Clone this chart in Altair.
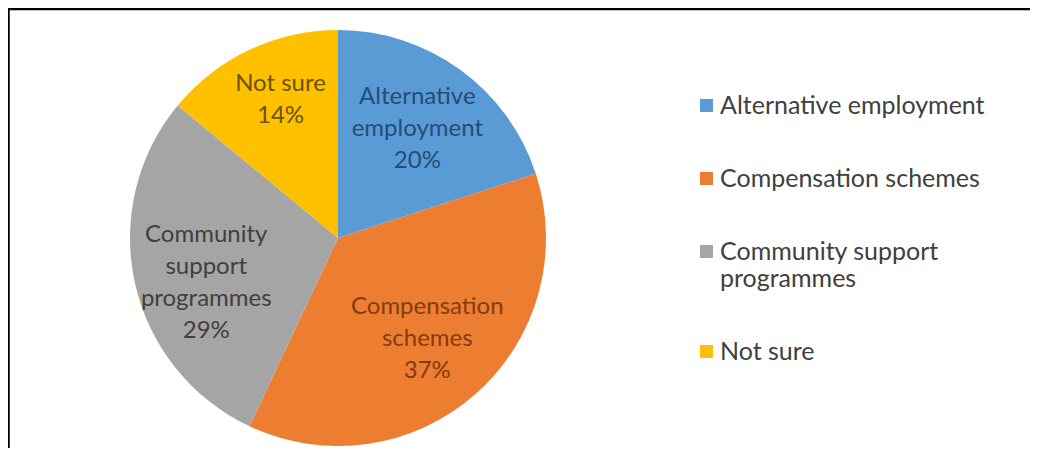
import altair as alt
import pandas as pd

categories = ["Alternative employment", "Compensation schemes",
              "Community support programmes", "Not sure"]
values = [20, 37, 29, 14]
slice_text = ["Alternative\nemployment", "Compensation\nschemes",
              "Community\nsupport\nprogrammes", "Not sure"]
slice_colors = ["#5B9BD5", "#ED7D31", "#A5A5A5", "#FFC000"]
text_colors = ["#1F4E79", "#843C0C", "#404040", "#6B5200"]

df = pd.DataFrame({
    "idx": list(range(len(categories))),
    "category": categories,
    "value": values,
    "label": [f"{t}\n{v}%" for t, v in zip(slice_text, values)],
    "tcolor": text_colors,
})

FONT = "Lato"
PAD_TOP = 20
VIEW_W, VIEW_H = 660, 420
TOTAL_W = 1024

legend = alt.Legend(
    title=None,
    orient="none",
    legendX=686,
    legendY=65,
    symbolType="square",
    symbolSize=169,
    symbolStrokeWidth=0,
    labelFont=FONT,
    labelFontSize=25,
    labelColor="#404040",
    labelOffset=1,
    labelLimit=500,
    rowPadding=47,
    padding=0,
    labelExpr="datum.label == 'Community support programmes' ? ['Community support', 'programmes'] : datum.label",
)

base = alt.Chart(df)

arcs = base.mark_arc(outerRadius=208).encode(
    theta=alt.Theta("value:Q", stack=True),
    color=alt.Color("category:N",
                    scale=alt.Scale(domain=categories, range=slice_colors),
                    legend=legend),
    order=alt.Order("idx:Q"),
)

labels = base.mark_text(radius=135, lineBreak="\n", lineHeight=32, dy=-32,
                        fontSize=24, font=FONT).encode(
    theta=alt.Theta("value:Q", stack=True),
    text="label:N",
    color=alt.Color("tcolor:N", scale=None),
    order=alt.Order("idx:Q"),
)

frame_df = pd.DataFrame({"a": [0]})
top_line = alt.Chart(frame_df).mark_rule(color="#000000", strokeWidth=2.5).encode(
    x=alt.value(-1), x2=alt.value(TOTAL_W - 2), y=alt.value(1 - PAD_TOP)
)
left_line = alt.Chart(frame_df).mark_rule(color="#000000", strokeWidth=2.5).encode(
    x=alt.value(0.5), y=alt.value(-PAD_TOP), y2=alt.value(VIEW_H)
)

chart = alt.layer(arcs, labels, top_line, left_line).resolve_scale(
    color="independent"
).properties(
    width=VIEW_W,
    height=VIEW_H,
    autosize=alt.AutoSizeParams(type="none"),
    padding={"left": 0, "top": PAD_TOP, "right": TOTAL_W - VIEW_W, "bottom": 0},
    background="white",
).configure_view(stroke=None)

chart.save("out.html", embed_options={"renderer": "svg", "actions": False})
